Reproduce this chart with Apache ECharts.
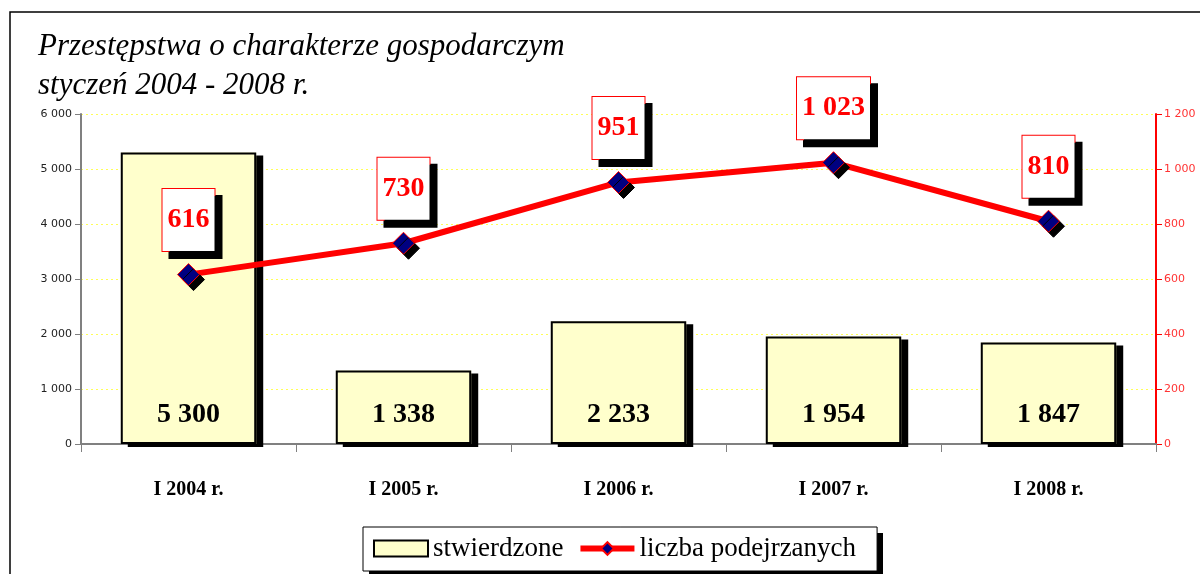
<!DOCTYPE html>
<html>
<head>
<meta charset="utf-8">
<script src="https://cdn.jsdelivr.net/npm/echarts@6/dist/echarts.min.js"></script>
<style>
html,body{margin:0;padding:0;background:#fff;}
#main{width:1200px;height:574px;}
</style>
</head>
<body>
<div id="main"></div>
<script>
// dane z wykresu
var categories = ["I 2004 r.", "I 2005 r.", "I 2006 r.", "I 2007 r.", "I 2008 r."];
var stwierdzone = [5300, 1338, 2233, 1954, 1847];
var podejrzani = [616, 730, 951, 1023, 810];

// 1234 -> "1 234"
function fmt(v){
    return String(v).replace(/\B(?=(\d{3})+(?!\d))/g, " ");
}

var chart = echarts.init(document.getElementById("main"));
var serif = "Liberation Serif";

var option = {
    animation: false,
    title: {
        text: "Przestępstwa o charakterze gospodarczym\nstyczeń 2004 - 2008 r.",
        left: 33,
        top: 22,
        textStyle: {
            fontFamily: serif,
            fontStyle: "italic",
            fontWeight: "normal",
            fontSize: 31,
            lineHeight: 39,
            color: "#000"
        }
    },
    graphic: [{
        // ramka całego wykresu
        type: "rect",
        shape: {x: 10, y: 12, width: 1250, height: 700},
        style: {fill: "none", stroke: "#000", lineWidth: 1.5},
        silent: true
    }, {
        // cień legendy
        type: "rect",
        z: 1,
        shape: {x: 369, y: 533, width: 514, height: 44},
        style: {fill: "#000"},
        silent: true
    }],
    grid: {left: 81, right: 44, top: 114, bottom: 130},
    legend: {
        top: 527,
        left: 363,
        z: 5,
        data: [{
            name: "stwierdzone",
            icon: "rect",
            itemStyle: {color: "#ffffcc", borderColor: "#000", borderWidth: 2}
        }, {
            name: "liczba podejrzanych",
            lineStyle: {color: "#ff0000", width: 6}
        }],
        itemWidth: 54,
        itemHeight: 16,
        itemGap: 14,
        padding: [8, 21, 9, 10],
        backgroundColor: "#fff",
        borderColor: "#000",
        borderWidth: 1,
        textStyle: {fontFamily: serif, fontSize: 27, color: "#000"}
    },
    xAxis: {
        type: "category",
        data: categories,
        axisLine: {lineStyle: {color: "#808080", width: 2}},
        axisTick: {show: true, length: 8, lineStyle: {color: "#808080"}},
        axisLabel: {
            margin: 36,
            fontFamily: serif,
            fontWeight: "bold",
            fontSize: 20,
            color: "#000"
        }
    },
    yAxis: [{
        type: "value",
        min: 0,
        max: 6000,
        interval: 1000,
        axisLine: {show: true, lineStyle: {color: "#808080", width: 2}},
        axisTick: {show: true, length: 6, lineStyle: {color: "#808080"}},
        axisLabel: {
            margin: 9,
            fontFamily: "DejaVu Sans",
            fontSize: 11,
            color: "#222",
            formatter: fmt
        },
        splitLine: {show: true, lineStyle: {color: "#ffff55", type: [2, 3], width: 1}}
    }, {
        type: "value",
        min: 0,
        max: 1200,
        interval: 200,
        axisLine: {show: true, lineStyle: {color: "#ff0000", width: 2}},
        axisTick: {show: true, length: 6, lineStyle: {color: "#ff0000"}},
        axisLabel: {
            margin: 8,
            fontFamily: "DejaVu Sans",
            fontSize: 11,
            color: "#ff3333",
            formatter: fmt
        },
        splitLine: {show: false}
    }],
    series: [{
        // wypełnienie słupków z cieniem
        name: "stwierdzone",
        type: "bar",
        data: stwierdzone,
        barWidth: "63%",
        barGap: "-100%",
        itemStyle: {
            color: "#ffffcc",
            shadowColor: "#000",
            shadowOffsetX: 7,
            shadowOffsetY: 3,
            shadowBlur: 0
        }
    }, {
        // obramowanie słupków + etykiety
        name: "stwierdzone-ramka",
        type: "bar",
        data: stwierdzone,
        barWidth: "63%",
        barGap: "-100%",
        itemStyle: {
            color: "rgba(0,0,0,0)",
            borderColor: "#000",
            borderWidth: 2
        },
        label: {
            show: true,
            position: "insideBottom",
            distance: 15,
            fontFamily: serif,
            fontWeight: "bold",
            fontSize: 28,
            color: "#000",
            formatter: function(p){ return fmt(p.value); }
        }
    }, {
        name: "liczba podejrzanych",
        type: "line",
        yAxisIndex: 1,
        z: 5,
        data: podejrzani,
        symbol: "diamond",
        symbolSize: 22,
        lineStyle: {color: "#ff0000", width: 6},
        itemStyle: {
            color: "#000080",
            borderColor: "#ff0000",
            borderWidth: 1,
            shadowColor: "#000",
            shadowOffsetX: 5,
            shadowOffsetY: 5,
            shadowBlur: 0
        },
        label: {
            show: true,
            position: "top",
            distance: 12,
            fontFamily: serif,
            fontWeight: "bold",
            fontSize: 28,
            lineHeight: 30,
            color: "#ff0000",
            backgroundColor: "#fff",
            borderColor: "#ff0000",
            borderWidth: 1,
            padding: [16, 5, 16, 5],
            shadowColor: "#000",
            shadowOffsetX: 7,
            shadowOffsetY: 7,
            shadowBlur: 0,
            formatter: function(p){ return fmt(p.value); }
        }
    }]
};
chart.setOption(option);
</script>
</body>
</html>
